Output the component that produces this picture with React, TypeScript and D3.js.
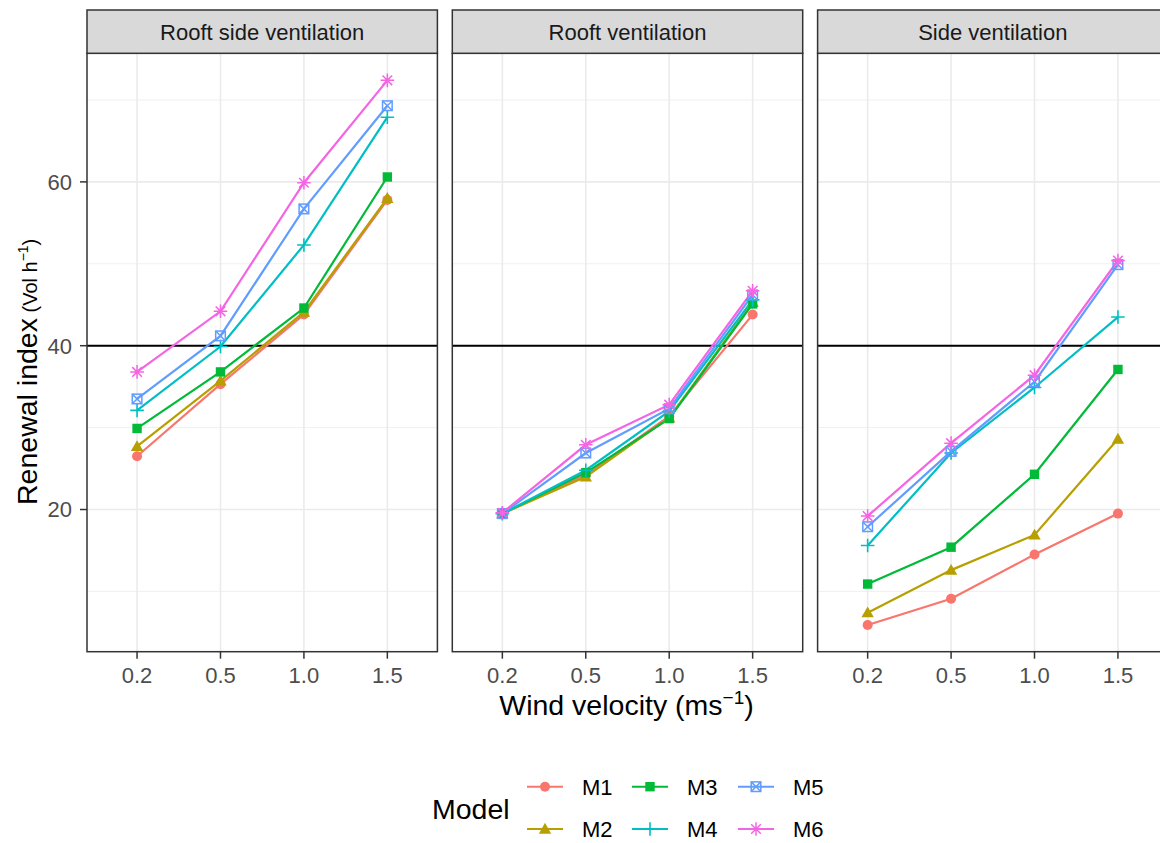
import React from 'react';
import * as d3 from 'd3';

// x categories (wind velocity) and facets
const velocities = ['0.2', '0.5', '1.0', '1.5'];
const facets = ['Rooft side ventilation', 'Rooft ventilation', 'Side ventilation'];
const models = ['M1', 'M2', 'M3', 'M4', 'M5', 'M6'];
const modelColors = ['#F8766D', '#B79F00', '#00BA38', '#00BFC4', '#619CFF', '#F564E3'];
const modelShapes = ['circle', 'triangle', 'square', 'plus', 'boxX', 'asterisk'];

// renewal index per model (rows M1..M6), one array per facet
const rooftSideValues = [
  [26.5, 35.3, 43.8, 57.8],
  [27.7, 35.7, 44.1, 58.0],
  [29.9, 36.8, 44.6, 60.6],
  [32.1, 39.9, 52.3, 67.9],
  [33.5, 41.2, 56.7, 69.3],
  [36.8, 44.2, 59.9, 72.4],
];
const rooftValues = [
  [19.5, 24.2, 31.4, 43.8],
  [19.5, 24.0, 31.2, 45.3],
  [19.5, 24.5, 31.1, 45.1],
  [19.5, 24.8, 32.0, 45.6],
  [19.5, 26.9, 32.3, 46.2],
  [19.6, 27.9, 32.8, 46.7],
];
const sideValues = [
  [5.9, 9.1, 14.5, 19.5],
  [7.4, 12.6, 16.9, 28.6],
  [10.9, 15.4, 24.3, 37.1],
  [15.6, 26.9, 34.9, 43.5],
  [17.9, 27.1, 35.6, 49.9],
  [19.2, 28.1, 36.4, 50.4],
];
const facetValues = [rooftSideValues, rooftValues, sideValues];

const yTicks = [20, 40, 60];
const yMinorTicks = [10, 30, 50, 70];
const refLine = 40;

const FONT = '"Liberation Sans", Arial, sans-serif';

function Marker({ shape, x, y, color }) {
  switch (shape) {
    case 'circle':
      return <circle cx={x} cy={y} r={5} fill={color} />;
    case 'triangle': {
      const s = 6.2;
      return <path d={`M${x},${y - s}L${x + s},${y + s * 0.75}L${x - s},${y + s * 0.75}Z`} fill={color} />;
    }
    case 'square':
      return <rect x={x - 4.7} y={y - 4.7} width={9.4} height={9.4} fill={color} />;
    case 'plus':
      return (
        <path d={`M${x - 6.8},${y}H${x + 6.8}M${x},${y - 6.8}V${y + 6.8}`} stroke={color} strokeWidth={1.6} fill="none" />
      );
    case 'boxX':
      return (
        <g stroke={color} strokeWidth={1.5} fill="none">
          <rect x={x - 4.8} y={y - 4.8} width={9.6} height={9.6} />
          <path d={`M${x - 4.8},${y - 4.8}L${x + 4.8},${y + 4.8}M${x + 4.8},${y - 4.8}L${x - 4.8},${y + 4.8}`} />
        </g>
      );
    case 'asterisk': {
      const s = 6.8, d = 4.8;
      return (
        <path
          d={`M${x - s},${y}H${x + s}M${x},${y - s}V${y + s}M${x - d},${y - d}L${x + d},${y + d}M${x + d},${y - d}L${x - d},${y + d}`}
          stroke={color} strokeWidth={1.5} fill="none"
        />
      );
    }
    default:
      return null;
  }
}

export default function App() {
  const width = 1160;
  const height = 843;

  const panelTop = 53.3;
  const panelBottom = 651.7;
  const stripTop = 10;
  const panelW = 350.4;
  const panelStep = 365.3;
  const firstLeft = 87;

  const y = d3.scaleLinear().domain([2.64, 75.7]).range([panelBottom, panelTop]);
  const line = d3.line<number>();

  return (
    <svg
      width={width}
      height={height}
      style={{ position: 'absolute', left: 0, top: 0, background: '#fff' }}
      fontFamily={FONT}
    >
      <rect width={width} height={height} fill="#fff" />

      {facets.map((facet, fi) => {
        const left = firstLeft + fi * panelStep;
        const right = left + panelW;
        const x = d3.scalePoint().domain(velocities).range([left, right]).padding(0.6);
        const values = facetValues[fi];

        return (
          <g key={facet}>
            {/* grid */}
            {yMinorTicks.map(t => (
              <line key={'mi' + t} x1={left} x2={right} y1={y(t)} y2={y(t)} stroke="#EBEBEB" strokeWidth={0.8} />
            ))}
            {yTicks.map(t => (
              <line key={'ma' + t} x1={left} x2={right} y1={y(t)} y2={y(t)} stroke="#EBEBEB" strokeWidth={1.6} />
            ))}
            {velocities.map(v => (
              <line key={'vx' + v} x1={x(v)} x2={x(v)} y1={panelTop} y2={panelBottom} stroke="#EBEBEB" strokeWidth={1.6} />
            ))}

            {/* reference line */}
            <line x1={left} x2={right} y1={y(refLine)} y2={y(refLine)} stroke="#000" strokeWidth={2} />

            {/* series lines */}
            {values.map((row, mi) => (
              <path
                key={'l' + mi}
                d={line(row.map((val, i) => [x(velocities[i]), y(val)]))}
                fill="none"
                stroke={modelColors[mi]}
                strokeWidth={2.2}
              />
            ))}
            {/* points */}
            {values.map((row, mi) => (
              <g key={'p' + mi}>
                {row.map((val, i) => (
                  <Marker key={i} shape={modelShapes[mi]} x={x(velocities[i])} y={y(val)} color={modelColors[mi]} />
                ))}
              </g>
            ))}

            {/* border */}
            <rect x={left} y={panelTop} width={panelW} height={panelBottom - panelTop} fill="none" stroke="#333333" strokeWidth={1.5} />

            {/* strip */}
            <rect x={left} y={stripTop} width={panelW} height={panelTop - stripTop} fill="#D9D9D9" stroke="#333333" strokeWidth={1.5} />
            <text x={(left + right) / 2} y={40} textAnchor="middle" fontSize={22} fill="#1A1A1A">{facet}</text>

            {/* x axis */}
            {velocities.map(v => (
              <g key={'xt' + v}>
                <line x1={x(v)} x2={x(v)} y1={panelBottom} y2={panelBottom + 7} stroke="#333333" strokeWidth={1.5} />
                <text x={x(v)} y={683} textAnchor="middle" fontSize={22} fill="#4D4D4D">{v}</text>
              </g>
            ))}
          </g>
        );
      })}

      {/* y axis (first panel only) */}
      {yTicks.map(t => (
        <g key={'yt' + t}>
          <line x1={firstLeft - 7} x2={firstLeft} y1={y(t)} y2={y(t)} stroke="#333333" strokeWidth={1.5} />
          <text x={72} y={y(t) + 7.9} textAnchor="end" fontSize={22} fill="#4D4D4D">{t}</text>
        </g>
      ))}

      {/* axis titles */}
      <text x={626.5} y={715} textAnchor="middle" fontSize={28.5} fill="#000">
        Wind velocity (ms
        <tspan fontSize={19} dy={-11}>{'\u22121'}</tspan>
        <tspan dy={11}>)</tspan>
      </text>
      <text transform="translate(36.5,505) rotate(-90)" textAnchor="start" fontSize={28.5} fill="#000">
        Renewal index
        <tspan fontSize={20}> (Vol h</tspan>
        <tspan fontSize={14} dy={-9}>{'\u22121'}</tspan>
        <tspan fontSize={20} dy={9}>)</tspan>
      </text>

      {/* legend */}
      <text x={432} y={819} fontSize={28.5} fill="#000">Model</text>
      {models.map((m, i) => {
        const col = Math.floor(i / 2);
        const row = i % 2;
        const kx = [527, 632, 738][col];
        const lx = [582, 687, 793][col];
        const ky = row === 0 ? 786.7 : 829;
        return (
          <g key={m}>
            <line x1={kx} x2={kx + 36} y1={ky} y2={ky} stroke={modelColors[i]} strokeWidth={2} />
            <Marker shape={modelShapes[i]} x={kx + 18} y={ky} color={modelColors[i]} />
            <text x={lx} y={ky + 7.9} fontSize={22} fill="#000">{m}</text>
          </g>
        );
      })}
    </svg>
  );
}
